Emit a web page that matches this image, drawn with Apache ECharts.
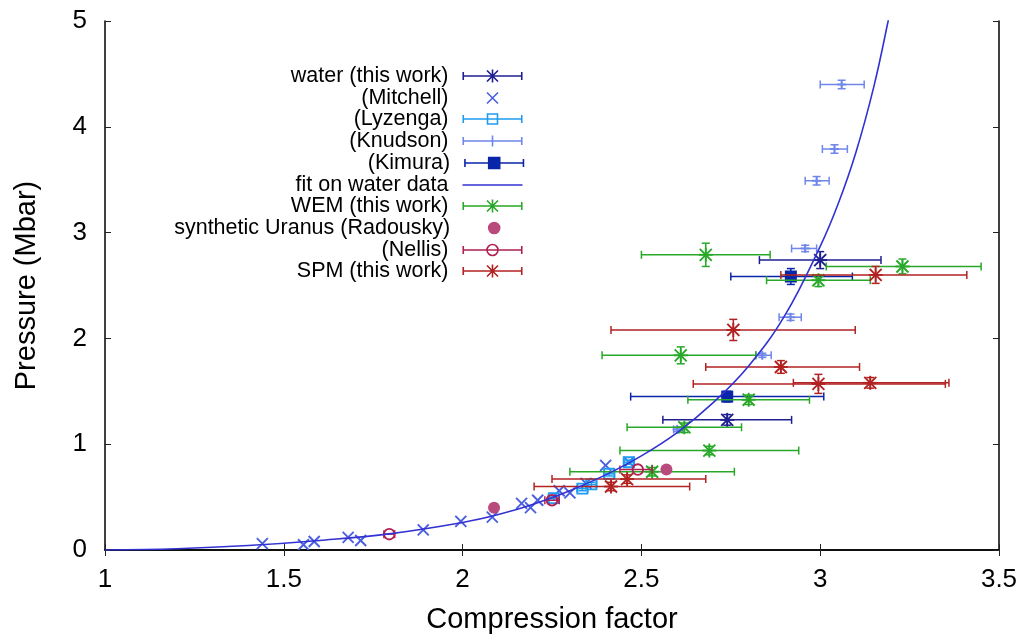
<!DOCTYPE html>
<html>
<head>
<meta charset="utf-8">
<title>Pressure vs compression factor</title>
<script src="https://cdn.jsdelivr.net/npm/echarts@6/dist/echarts.min.js"></script>
<style>
  html, body { margin: 0; padding: 0; background: #fff; }
  #chart { width: 1029px; height: 641px; }
</style>
</head>
<body>
<div id="chart"></div>
<script>
// rows: [compression, pressure (Mbar), xLow, xHigh, pLow, pHigh]
const water = [
  [3.00, 2.74, 2.83, 3.17, 2.66, 2.82],
  [2.74, 1.23, 2.56, 2.92, 1.18, 1.28]
];
const mitchell = [
  [1.44, 0.06], [1.555, 0.05], [1.585, 0.08], [1.68, 0.12], [1.715, 0.09],
  [1.89, 0.19], [1.995, 0.27], [2.083, 0.31], [2.165, 0.44], [2.19, 0.40],
  [2.21, 0.47], [2.27, 0.56], [2.30, 0.54], [2.345, 0.63], [2.40, 0.80],
  [2.465, 0.83]
];
const lyzenga = [
  [2.255, 0.49, 2.24, 2.27, 0.47, 0.51],
  [2.335, 0.58, 2.32, 2.35, 0.56, 0.60],
  [2.36, 0.62, 2.345, 2.375, 0.60, 0.64],
  [2.41, 0.72, 2.395, 2.425, 0.70, 0.74],
  [2.465, 0.83, 2.45, 2.48, 0.81, 0.85]
];
const knudson = [
  [3.06, 4.40, 3.00, 3.123, 4.36, 4.44],
  [3.04, 3.79, 3.006, 3.076, 3.75, 3.83],
  [2.99, 3.49, 2.958, 3.025, 3.45, 3.53],
  [2.958, 2.85, 2.92, 2.99, 2.82, 2.88],
  [2.917, 2.20, 2.885, 2.947, 2.17, 2.23],
  [2.838, 1.84, 2.82, 2.863, 1.82, 1.86],
  [2.60, 1.14, 2.59, 2.615, 1.12, 1.16]
];
const kimura = [
  [2.918, 2.585, 2.75, 3.09, 2.51, 2.66],
  [2.74, 1.45, 2.47, 3.01, 1.40, 1.50]
];
// fit curve
const fitCurve = [
  [1.0, 0.0], [1.2, 0.012], [1.4, 0.042], [1.6, 0.09], [1.8, 0.155],
  [2.0, 0.26], [2.1, 0.335], [2.2, 0.435], [2.3, 0.56], [2.4, 0.71],
  [2.5, 0.89], [2.6, 1.11], [2.7, 1.39], [2.8, 1.74], [2.9, 2.21],
  [3.0, 2.87], [3.05, 3.27], [3.1, 3.76], [3.15, 4.38], [3.19, 5.0],
  [3.22, 5.5]
];
const wem = [
  [2.68, 2.79, 2.50, 2.86, 2.68, 2.90],
  [3.23, 2.68, 3.017, 3.45, 2.61, 2.75],
  [2.995, 2.55, 2.85, 3.14, 2.49, 2.60],
  [2.61, 1.84, 2.39, 2.82, 1.76, 1.92],
  [2.80, 1.42, 2.63, 2.97, 1.375, 1.465],
  [2.62, 1.16, 2.46, 2.78, 1.11, 1.20],
  [2.69, 0.94, 2.44, 2.94, 0.90, 0.98],
  [2.53, 0.74, 2.30, 2.76, 0.70, 0.78]
];
const radousky = [[2.088, 0.40], [2.57, 0.76]];
const nellis = [
  [1.795, 0.15, 1.78, 1.81, 0.15, 0.15],
  [2.25, 0.47, 2.23, 2.27, 0.47, 0.47],
  [2.49, 0.76, 2.44, 2.53, 0.76, 0.76]
];
const spm = [
  [3.155, 2.60, 2.89, 3.41, 2.52, 2.68],
  [2.757, 2.08, 2.415, 3.098, 1.98, 2.18],
  [2.89, 1.73, 2.68, 3.11, 1.67, 1.79],
  [2.995, 1.57, 2.645, 3.35, 1.48, 1.66],
  [3.14, 1.58, 2.925, 3.36, 1.53, 1.63],
  [2.46, 0.67, 2.25, 2.68, 0.63, 0.71],
  [2.415, 0.60, 2.20, 2.635, 0.56, 0.64]
];

const xTicks = { min: 1, max: 3.5, step: 0.5 };
const yTicks = { min: 0, max: 5, step: 1 };

const FONT = 'Liberation Sans, Arial, Helvetica, sans-serif';
const legendRows = [74, 96, 117, 139, 161, 183, 204, 226, 248, 269];

// draws error bars plus a gnuplot-like point marker
function errRender(marker, color) {
  return function (params, api) {
    const x = api.value(0), p = api.value(1);
    const c = api.coord([x, p]);
    const st = { stroke: color, lineWidth: 1.5, fill: 'none' };
    const mk = { stroke: color, lineWidth: 1.9, fill: 'none' };
    const kids = [];
    const seg = (x1, y1, x2, y2, s) => kids.push({ type: 'line', shape: { x1, y1, x2, y2 }, style: s || st });
    const cap = 4;
    const xlo = api.value(2), xhi = api.value(3), plo = api.value(4), phi = api.value(5);
    if (xhi > xlo) {
      const a = api.coord([xlo, p])[0], b = api.coord([xhi, p])[0];
      seg(a, c[1], b, c[1]);
      seg(a, c[1] - cap, a, c[1] + cap);
      seg(b, c[1] - cap, b, c[1] + cap);
    }
    if (phi > plo) {
      const a = api.coord([x, plo])[1], b = api.coord([x, phi])[1];
      seg(c[0], a, c[0], b);
      seg(c[0] - cap, a, c[0] + cap, a);
      seg(c[0] - cap, b, c[0] + cap, b);
    }
    const [cx, cy] = c;
    if (marker === 'star') {
      seg(cx, cy - 7, cx, cy + 7, mk); seg(cx - 7, cy, cx + 7, cy, mk);
      seg(cx - 6, cy - 6, cx + 6, cy + 6, mk); seg(cx + 6, cy - 6, cx - 6, cy + 6, mk);
    } else if (marker === 'cross') {
      seg(cx - 5.5, cy - 5.5, cx + 5.5, cy + 5.5, mk); seg(cx + 5.5, cy - 5.5, cx - 5.5, cy + 5.5, mk);
    } else if (marker === 'plus') {
      seg(cx, cy - 4.5, cx, cy + 4.5, mk); seg(cx - 4.5, cy, cx + 4.5, cy, mk);
    } else if (marker === 'square') {
      kids.push({ type: 'rect', shape: { x: cx - 5, y: cy - 5, width: 10, height: 10 }, style: mk });
    } else if (marker === 'fsquare') {
      kids.push({ type: 'rect', shape: { x: cx - 6, y: cy - 6, width: 12, height: 12 }, style: { fill: color } });
    } else if (marker === 'fcircle') {
      kids.push({ type: 'circle', shape: { cx, cy, r: 6 }, style: { fill: color } });
    } else if (marker === 'circle') {
      kids.push({ type: 'circle', shape: { cx, cy, r: 5.3 }, style: mk });
    }
    return { type: 'group', children: kids };
  };
}

// legend icons, 69x14 box, visible part 9..69
const anchor = 'M0 0L0.01 0M68.99 14L69 14';
const bar = 'M9 7H69M9.75 3V11M68.25 3V11';
const icons = {
  star: anchor + bar + 'M39 0.5V13.5M33.5 1.5L44.5 12.5M44.5 1.5L33.5 12.5',
  cross: anchor + 'M33.5 1.5L44.5 12.5M44.5 1.5L33.5 12.5',
  square: anchor + bar + 'M34 2H44V12H34Z',
  plus: anchor + bar + 'M39 1.5V12.5',
  fsquare: anchor + bar + 'M33.5 1.5H44.5V12.5H33.5Z',
  line: anchor + 'M9 7H69',
  fcircle: anchor + 'M44.5 7A5.5 5.5 0 1 1 33.5 7A5.5 5.5 0 1 1 44.5 7Z',
  circle: anchor + bar + 'M44.5 7A5.5 5.5 0 1 1 33.5 7A5.5 5.5 0 1 1 44.5 7Z'
};

const sets = [
  { name: 'water (this work)', data: water, marker: 'star', color: '#1f1f8f' },
  { name: '(Mitchell)', data: mitchell, marker: 'cross', color: '#4a5fdf' },
  { name: '(Lyzenga)', data: lyzenga, marker: 'square', color: '#1f9cf0' },
  { name: '(Knudson)', data: knudson, marker: 'plus', color: '#6f86ea' },
  { name: '(Kimura)', data: kimura, marker: 'fsquare', color: '#0a26a8' },
  { name: 'fit on water data', data: fitCurve, marker: 'line', color: '#3232d2' },
  { name: 'WEM (this work)', data: wem, marker: 'star', color: '#28a828' },
  { name: 'synthetic Uranus (Radousky)', data: radousky, marker: 'fcircle', color: '#b84a7c' },
  { name: '(Nellis)', data: nellis, marker: 'circle', color: '#b02050' },
  { name: 'SPM (this work)', data: spm, marker: 'star', color: '#b22222' }
];

const series = sets.map(s => {
  if (s.marker === 'line') {
    return {
      name: s.name, type: 'line', data: s.data, smooth: 0.4,
      showSymbol: false, symbol: 'none', color: s.color,
      lineStyle: { color: s.color, width: 1.6 }, clip: true, silent: true
    };
  }
  return {
    name: s.name, type: 'custom', data: s.data, color: s.color,
    renderItem: errRender(s.marker, s.color), clip: true, silent: true,
    encode: { x: 0, y: 1 }
  };
});

const filled = { fsquare: true, fcircle: true };
const legends = sets.map((s, i) => ({
  data: [{
    name: s.name,
    icon: 'path://' + icons[s.marker],
    itemStyle: { color: filled[s.marker] ? s.color : 'none', borderColor: s.color, borderWidth: 1.6 }
  }],
  orient: 'vertical', align: 'right', right: 1029 - 525, top: legendRows[i] - 9,
  itemWidth: 69, itemHeight: 14, padding: 0, itemGap: 0, selectedMode: false,
  textStyle: { fontSize: 21.5, color: '#000', fontFamily: FONT, lineHeight: 14 }
}));

const axisCommon = {
  type: 'value',
  axisLine: { show: true, lineStyle: { color: '#000', width: 1.5 } },
  axisTick: { show: true, inside: true, length: 6, lineStyle: { color: '#222', width: 1 } },
  splitLine: { show: false }
};

const chart = echarts.init(document.getElementById('chart'), null, { renderer: 'canvas' });
chart.setOption({
  animation: false,
  backgroundColor: '#fff',
  textStyle: { fontFamily: FONT },
  grid: { left: 105, right: 30, top: 21, bottom: 91 },
  legend: legends,
  xAxis: [
    Object.assign({}, axisCommon, {
      min: xTicks.min, max: xTicks.max, interval: xTicks.step,
      name: 'Compression factor', nameLocation: 'middle', nameGap: 55,
      nameTextStyle: { fontSize: 29, color: '#000', fontFamily: FONT },
      axisLabel: { fontSize: 26, color: '#000', margin: 17, fontFamily: FONT }
    }),
    Object.assign({}, axisCommon, {
      position: 'top', min: xTicks.min, max: xTicks.max, interval: xTicks.step,
      axisLabel: { show: false }
    })
  ],
  yAxis: [
    Object.assign({}, axisCommon, {
      min: yTicks.min, max: yTicks.max, interval: yTicks.step,
      name: 'Pressure (Mbar)', nameLocation: 'middle', nameGap: 64,
      nameTextStyle: { fontSize: 29, color: '#000', fontFamily: FONT },
      axisLabel: { fontSize: 26, color: '#000', margin: 18, fontFamily: FONT }
    }),
    Object.assign({}, axisCommon, {
      position: 'right', min: yTicks.min, max: yTicks.max, interval: yTicks.step,
      axisLabel: { show: false }
    })
  ],
  series: series
});
</script>
</body>
</html>
